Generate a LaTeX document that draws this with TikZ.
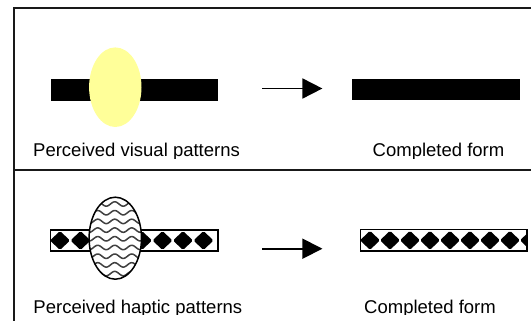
\documentclass[tikz,border=0pt]{standalone}
\usepackage{fontspec}
\setmainfont{Liberation Sans}
\usetikzlibrary{arrows.meta,shapes.geometric}
\definecolor{paleyellow}{RGB}{255,255,153}
\tikzset{
  frameline/.style={line width=2pt, draw=black!90},
  solidbar/.style={rectangle, fill=black, draw=none, inner sep=0pt},
  patbar/.style={rectangle, inner sep=0pt},
  caption/.style={anchor=base west, inner sep=0pt, font=\fontsize{18.5}{22}\selectfont},
  flowarrow/.style={line width=1.8pt, -{Triangle[length=20pt,width=20pt]}},
  wave/.style={draw=black!75, line width=1.5pt},
  gem/.style={fill=black, rounded corners=1.5pt},
  outline/.style={draw=black, line width=1.5pt},
  blob/.style={ellipse, inner sep=0pt, minimum width=52.4pt},
}
\begin{document}
\begin{tikzpicture}[x=1pt,y=-1pt]
\useasboundingbox (0,0) rectangle (531,323);

% outer frame and divider
\draw[frameline] (531,8.5) -- (13.5,8.5) -- (13.5,321);
\draw[frameline] (13.5,170.5) -- (531,170.5);

% ---- visual row ----
\node[solidbar, minimum width=167.6pt, minimum height=21.5pt] (vbar) at (134.6,89.8) {};
\node[blob, minimum height=79.6pt, fill=paleyellow] (vspot) at (115.3,87.2) {};
\coordinate (va) at (262.4,88.5);
\coordinate (vb) at (322.4,88.5);
\draw[flowarrow] (va) -- (vb);
\node[solidbar, minimum width=167.6pt, minimum height=21.5pt] (vdone) at (436,89.5) {};

\begin{scope}
  \clip (0,0) rectangle (531,158.3);
  \node[caption] (vcap) at (33,156.7) {Perceived visual patterns};
  \node[caption] (vdonecap) at (372.5,156.7) {Completed form};
\end{scope}

% ---- haptic row ----
% broken band: diamond strip behind the wavy patch
\node[patbar, minimum width=166.9pt, minimum height=21pt, fill=white] (hbar) at (134.25,240.5) {};
\begin{scope}
  \clip (hbar.north west) rectangle (hbar.south east);
  \foreach \k in {0,...,7}
    \fill[gem] ({60+20.5*\k},240.5) +(-10,0) -- +(0,-9.5) -- +(10,0) -- +(0,9.5) -- cycle;
\end{scope}
\draw[outline] (hbar.north west) rectangle (hbar.south east);

% wavy patch
\node[blob, minimum height=82pt, fill=white] (hspot) at (115.3,238.2) {};
\begin{scope}
  \clip (hspot.center) ellipse [x radius=26.2, y radius=41];
  \foreach \k in {-1,...,9}
    \draw[wave] plot[domain=84:147, samples=80, smooth]
      (\x, {204+8.7*\k + 2.2*sin(21.176*\x)});
\end{scope}
\draw[outline] (hspot.center) ellipse [x radius=26.2, y radius=41];

\coordinate (ha) at (262.4,248.7);
\coordinate (hb) at (322.4,248.7);
\draw[flowarrow] (ha) -- (hb);

% completed diamond strip
\node[patbar, minimum width=166pt, minimum height=21pt, fill=white] (hdone) at (443.6,240.3) {};
\begin{scope}
  \clip (hdone.north west) rectangle (hdone.south east);
  \foreach \k in {0,...,8}
    \fill[gem] ({370+20*\k},240.3) +(-10,0) -- +(0,-9.5) -- +(10,0) -- +(0,9.5) -- cycle;
\end{scope}
\draw[outline] (hdone.north west) rectangle (hdone.south east);

\begin{scope}
  \clip (0,172) rectangle (531,315);
  \node[caption] (hcap) at (33.3,313.3) {Perceived haptic patterns};
  \node[caption] (hdonecap) at (364,313.3) {Completed form};
\end{scope}
\end{tikzpicture}
\end{document}
